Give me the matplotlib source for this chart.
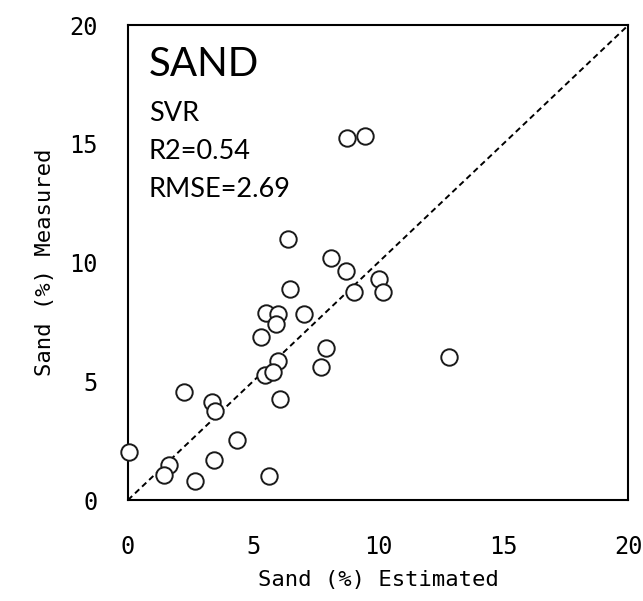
import matplotlib
matplotlib.use('Agg')
import matplotlib.pyplot as plt

# estimated vs measured sand content (%)
estimated = [8.76, 9.48, 6.39, 8.10, 8.73, 10.05, 6.46, 9.04, 10.20,
             5.51, 5.98, 5.92, 7.05, 5.31, 7.90, 12.84, 5.99, 7.72,
             5.48, 5.81, 2.24, 3.35, 3.49, 6.09, 4.35, 0.04, 1.63,
             1.43, 3.43, 2.70, 5.62]
measured = [15.27, 15.33, 11.00, 10.18, 9.65, 9.29, 8.88, 8.75, 8.75,
            7.89, 7.82, 7.41, 7.82, 6.86, 6.39, 6.04, 5.85, 5.60,
            5.26, 5.40, 4.53, 4.14, 3.76, 4.24, 2.54, 2.02, 1.47,
            1.04, 1.67, 0.79, 1.02]
ticks = [0, 5, 10, 15, 20]
stats = ['SVR', 'R2=0.54', 'RMSE=2.69']

fig = plt.figure(figsize=(6.43, 6.01), dpi=100)
ax = fig.add_axes([0.199, 0.168, 0.778, 0.790])

ax.plot([0, 20], [0, 20], color='black', linestyle=(0, (3, 2)), linewidth=1.4, zorder=1)
ax.scatter(estimated, measured, s=140, facecolor='white', edgecolor='#1a1a1a',
           linewidth=1.4, zorder=3, clip_on=False)

ax.set_xlim(0, 20)
ax.set_ylim(0, 20)
ax.set_xticks(ticks)
ax.set_yticks(ticks)
mono = 'DejaVu Sans Mono'
ax.set_xticklabels([str(t) for t in ticks], fontfamily=mono, fontsize=17)
ax.set_yticklabels([str(t) for t in ticks], fontfamily=mono, fontsize=17)
ax.tick_params(length=0, pad=0)
ax.tick_params(axis='x', pad=25)
ax.tick_params(axis='y', pad=22)
for sp in ax.spines.values():
    sp.set_linewidth(1.5)

ax.set_xlabel('Sand (%) Estimated', fontfamily=mono, fontsize=16, labelpad=8)
ax.set_ylabel('Sand (%) Measured', fontfamily=mono, fontsize=16, labelpad=10)

ax.text(0.042, 0.893, 'SAND', transform=ax.transAxes, fontfamily='Lato',
        fontsize=29, va='baseline', ha='left')
for i, s in enumerate(stats):
    ax.text(0.042, 0.798 - i * 0.08, s, transform=ax.transAxes, fontfamily='Lato',
            fontsize=19.5, va='baseline', ha='left')

fig.savefig('out.png', dpi=100)
